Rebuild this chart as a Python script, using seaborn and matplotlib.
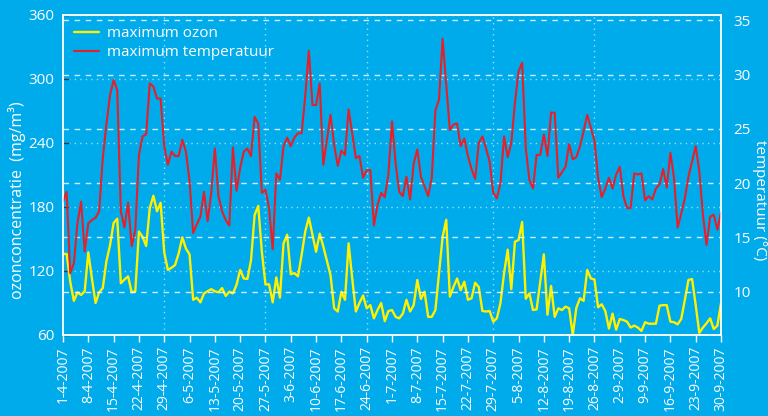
import pandas as pd
import matplotlib
matplotlib.use("Agg")
import matplotlib.pyplot as plt
import seaborn as sns

# daily values 1-4-2007 .. 30-9-2007
ozon = [136, 136, 110, 92, 100, 97.5, 101, 137.5, 113, 90,
        100, 104, 129, 144, 165, 169, 108.5, 112, 115, 100,
        101, 157, 152, 143.5, 179, 190.6, 176, 184, 137.5, 121,
        123, 125.6, 136.6, 151.6, 141, 135.6, 93, 95, 90.6, 99,
        101, 103, 101, 100, 104, 96.6, 100.6, 99, 107, 121,
        113, 112.5, 130, 172.5, 181, 138, 107.5, 107.5, 90.6, 114,
        95, 146, 154, 117, 118, 115, 135, 157, 170, 154,
        138, 155, 143, 129.4, 116, 85, 82, 100.6, 93, 146,
        113, 82, 90, 97, 85, 88, 75.6, 83.4, 90, 73,
        82.5, 83.4, 77, 75.6, 80, 93, 82, 88, 111.6, 93.8,
        100.6, 77, 77, 83.4, 118, 152, 168, 96, 105, 113,
        102, 110, 93, 94.4, 109, 105, 82.5, 82, 82.5, 72.5,
        75.6, 90, 118, 140, 103, 147.5, 149, 166, 94, 99,
        83.4, 84, 110, 135.6, 79, 106, 77, 85, 83.4, 86.6,
        85, 60, 85.6, 94.4, 92, 121, 113, 112, 86, 88.8,
        82.5, 66, 80, 65, 75, 74, 72.5, 67, 68.8, 67,
        63.8, 72, 70.6, 70.6, 70.6, 87.5, 88, 88, 72.5, 72,
        70, 75, 93, 111.6, 112.5, 88, 62, 67, 71, 75.6,
        65.6, 68.8, 89.7]

temperatuur = [18.3, 19.2, 11.7, 12.6, 16.3, 18.3, 13.7, 16.3, 16.6, 16.8,
               17.4, 22.3, 25.4, 28.1, 29.5, 28.6, 17.4, 15.9, 18.2, 14.2,
               15.7, 22.6, 24.3, 24.5, 29.2, 28.9, 27.8, 27.8, 23.4, 21.7,
               22.9, 22.5, 22.5, 24.0, 22.9, 20.2, 15.4, 16.2, 16.9, 19.2,
               16.5, 19.1, 23.2, 18.8, 17.4, 16.6, 16.1, 23.3, 19.3, 21.4,
               22.9, 23.2, 22.5, 26.1, 25.5, 19.1, 19.4, 17.7, 13.9, 20.9,
               20.3, 23.4, 24.2, 23.4, 24.2, 24.6, 24.6, 28.0, 32.2, 27.2,
               27.2, 29.2, 21.7, 24.0, 26.3, 23.5, 21.6, 23.0, 22.6, 26.8,
               24.6, 22.3, 22.5, 20.5, 21.2, 21.2, 16.1, 18.0, 19.1, 18.7,
               20.8, 25.7, 21.8, 19.2, 18.8, 20.6, 18.5, 21.8, 23.1, 20.6,
               19.7, 18.8, 20.5, 26.7, 27.7, 33.3, 29.1, 24.9, 25.4, 25.5,
               23.4, 24.1, 22.5, 21.3, 20.4, 23.7, 24.3, 23.2, 22.0, 19.1,
               18.6, 20.0, 24.3, 22.4, 23.7, 27.4, 30.3, 31.1, 23.2, 20.3,
               19.5, 22.6, 22.6, 24.5, 22.5, 26.5, 26.5, 20.5, 21.0, 21.5,
               23.6, 22.2, 22.4, 23.4, 24.8, 26.3, 25.1, 23.9, 20.5, 18.7,
               19.5, 20.5, 19.5, 20.8, 21.5, 18.8, 17.7, 17.7, 20.9, 20.8,
               20.9, 18.4, 18.8, 18.5, 19.5, 19.9, 21.3, 19.6, 22.8, 20.5,
               15.9, 17.2, 18.6, 20.6, 22.0, 23.4, 21.1, 17.1, 14.3, 16.9,
               17.1, 15.7, 17.3]

datum = pd.date_range("2007-04-01", "2007-09-30", freq="D")
df = pd.DataFrame({"datum": datum, "ozon": ozon, "temperatuur": temperatuur})

# vertical dotted gridlines as in the original
vlijnen = ["2007-04-29", "2007-05-27", "2007-06-24", "2007-07-29", "2007-08-26"]

blauw = "#00abeb"
geel = "#fff000"
rood = "#e4202a"
wit = "white"

sns.set_theme(style="white")
plt.rcParams["font.family"] = ["Open Sans", "DejaVu Sans"]

fig = plt.figure(figsize=(7.68, 4.16), dpi=100, facecolor=blauw)
ax = fig.add_axes([63 / 768, 1 - 335 / 416, 658 / 768, 320 / 416])
ax.set_facecolor(blauw)
ax2 = ax.twinx()

sns.lineplot(data=df, x="datum", y="ozon", ax=ax, color=geel, linewidth=1.7,
             label="maximum ozon", legend=False)
sns.lineplot(data=df, x="datum", y="temperatuur", ax=ax2, color=rood,
             linewidth=1.5, label="maximum temperatuur", legend=False)

ax.set_xlim(datum[0], datum[-1])
ax.set_ylim(60, 360)
ax.set_yticks(range(60, 361, 60))
ax2.set_ylim(6.0, 35.5)
ax2.set_yticks(range(10, 36, 5))

ticks = datum[::7]
ax.set_xticks(ticks)
ax.set_xticklabels([f"{d.day}-{d.month}-{d.year}" for d in ticks],
                   rotation=90, fontsize=10, color=wit)
ax.set_xlabel("")
ax.set_ylabel("")
ax2.set_ylabel("")

ax.tick_params(axis="x", bottom=True, direction="out", length=5, width=1,
               color=wit, pad=3)
ax.tick_params(axis="y", left=True, direction="in", length=4, width=1,
               color="#2a3a44", labelcolor=wit, labelsize=11, pad=6)
ax2.tick_params(axis="y", right=False, labelcolor=wit, labelsize=11, pad=3)

# gridlines
ax.grid(axis="y", color=wit, linestyle=(0, (1, 3)), linewidth=1, alpha=0.6)
ax.grid(axis="x", visible=False)
for d in vlijnen:
    ax.axvline(pd.Timestamp(d), color=wit, linestyle=(0, (1, 3)),
               linewidth=1, alpha=0.6, zorder=0.5)
ax2.grid(axis="y", color=wit, linestyle=(0, (4, 4)), linewidth=1, alpha=0.8)

for a in (ax, ax2):
    for s in a.spines.values():
        s.set_color((1, 1, 1, 0.85))
        s.set_linewidth(1.2)

fig.text(17 / 768, 1 - 200 / 416, "ozonconcentratie  (mg/m³)", rotation=90,
         ha="center", va="center", color=wit, fontsize=11.5)
fig.text(760 / 768, 1 - 200 / 416, "temperatuur (°C)", rotation=-90,
         ha="center", va="center", color=wit, fontsize=11)

h1 = ax.get_lines()[0]
h2 = ax2.get_lines()[0]
leg = ax2.legend([h1, h2], ["maximum ozon", "maximum temperatuur"],
                 loc="upper left", frameon=False, fontsize=11,
                 handlelength=1.6, handletextpad=0.5, labelspacing=0.25,
                 borderaxespad=0.35)
for t in leg.get_texts():
    t.set_color(wit)

fig.savefig("out.png", dpi=100, facecolor=blauw)
